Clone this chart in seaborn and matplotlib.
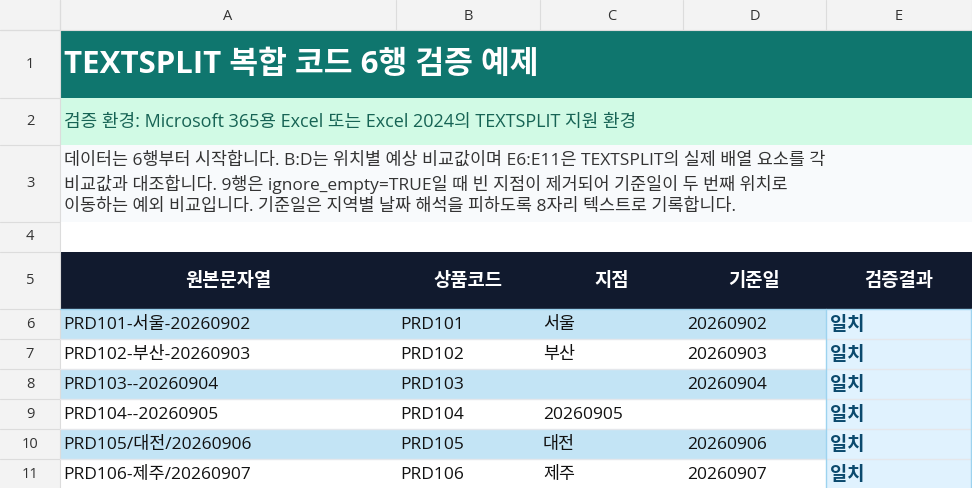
import matplotlib
matplotlib.use("Agg")
import matplotlib.pyplot as plt
from matplotlib.patches import Rectangle
import seaborn as sns

sns.set_theme(style="white")
plt.rcParams['font.family'] = ['Open Sans', 'Noto Sans CJK KR', 'DejaVu Sans']

col_letters = ["A", "B", "C", "D", "E"]
row_numbers = [str(i) for i in range(1, 12)]
title = "TEXTSPLIT 복합 코드 6행 검증 예제"
env_text = "검증 환경: Microsoft 365용 Excel 또는 Excel 2024의 TEXTSPLIT 지원 환경"
desc_lines = ["데이터는 6행부터 시작합니다. B:D는 위치별 예상 비교값이며 E6:E11은 TEXTSPLIT의 실제 배열 요소를 각",
              "비교값과 대조합니다. 9행은 ignore_empty=TRUE일 때 빈 지점이 제거되어 기준일이 두 번째 위치로",
              "이동하는 예외 비교입니다. 기준일은 지역별 날짜 해석을 피하도록 8자리 텍스트로 기록합니다."]
headers = ["원본문자열", "상품코드", "지점", "기준일", "검증결과"]
source = ["PRD101-서울-20260902", "PRD102-부산-20260903", "PRD103--20260904",
          "PRD104--20260905", "PRD105/대전/20260906", "PRD106-제주/20260907"]
codes = ["PRD101", "PRD102", "PRD103", "PRD104", "PRD105", "PRD106"]
branches = ["서울", "부산", "", "20260905", "대전", "제주"]
dates = ["20260902", "20260903", "20260904", "", "20260906", "20260907"]
results = ["일치"] * 6

col_x = [60, 396, 540, 683, 826, 972]
row_y = [30, 98, 145, 222, 252, 309, 339, 369, 399, 429, 459, 489]

fig = plt.figure(figsize=(9.72, 4.88), dpi=100)
ax = fig.add_axes([0, 0, 1, 1])
ax.set_xlim(0, 972); ax.set_ylim(488, 0); ax.axis("off")

def rect(x0, y0, x1, y1, fc):
    ax.add_patch(Rectangle((x0, y0), x1 - x0, y1 - y0, facecolor=fc, edgecolor="none", linewidth=0))

rect(0, 0, 972, 488, "white")
rect(0, 0, 972, 30, "#f3f3f3")
rect(0, 0, 60, 488, "#f3f3f3")
for x in col_x:
    ax.plot([x, x], [0, 30], color="#dcdcdc", lw=0.8)
ax.plot([60, 60], [0, 488], color="#dcdcdc", lw=0.8)
ax.plot([0, 972], [30, 30], color="#dcdcdc", lw=0.8)
for y in row_y:
    ax.plot([0, 60], [y, y], color="#dcdcdc", lw=0.8)
for i, c in enumerate(col_letters):
    ax.text((col_x[i] + col_x[i + 1]) / 2, 16, c, ha="center", va="center", fontsize=10.5, color="#333333")
for i, r in enumerate(row_numbers):
    ax.text(30, (row_y[i] + row_y[i + 1]) / 2, r, ha="center", va="center", fontsize=10.5, color="#333333")

rect(60, 30, 972, 98, "#0f766e")
ax.text(64, 65, title, ha="left", va="center", fontsize=22.5, fontweight="bold", color="white")
rect(60, 98, 972, 145, "#d1fae5")
ax.text(64, 122, env_text, ha="left", va="center", fontsize=13, color="#166354")
rect(60, 145, 972, 222, "#f8fafc")
for k, line in enumerate(desc_lines):
    ax.text(64, 161 + k * 23, line, ha="left", va="center", fontsize=12.5, color="#333333")

rect(60, 252, 972, 309, "#111a2e")
for i, h in enumerate(headers):
    ax.text((col_x[i] + col_x[i + 1]) / 2, 281, h, ha="center", va="center", fontsize=13.5,
            fontweight="bold", color="white")

for r in range(6):
    y0, y1 = row_y[5 + r], row_y[6 + r]
    fc = "#c3e4f5" if r % 2 == 0 else "white"
    rect(60, y0, 826, y1, fc)
    rect(826, y0, 972, y1, "#e0f2fe")
    ym = (y0 + y1) / 2 + 1
    ax.plot([60, 972], [y1, y1], color="#e5e7eb", lw=1)
    ax.text(63, ym, source[r], ha="left", va="center", fontsize=12.5, color="#111111")
    ax.text(400, ym, codes[r], ha="left", va="center", fontsize=12.5, color="#111111")
    ax.text(543, ym, branches[r], ha="left", va="center", fontsize=12.5, color="#111111")
    ax.text(687, ym, dates[r], ha="left", va="center", fontsize=12.5, color="#111111")
    ax.text(830, ym, results[r], ha="left", va="center", fontsize=13.5, fontweight="bold", color="#0b4a6e")
ax.plot([826, 826], [309, 488], color="#9dd3ef", lw=1)
ax.plot([971, 971], [309, 488], color="#9dd3ef", lw=1)
ax.plot([60, 972], [309, 309], color="#9dd3ef", lw=1)

fig.savefig("out.png", dpi=100)
